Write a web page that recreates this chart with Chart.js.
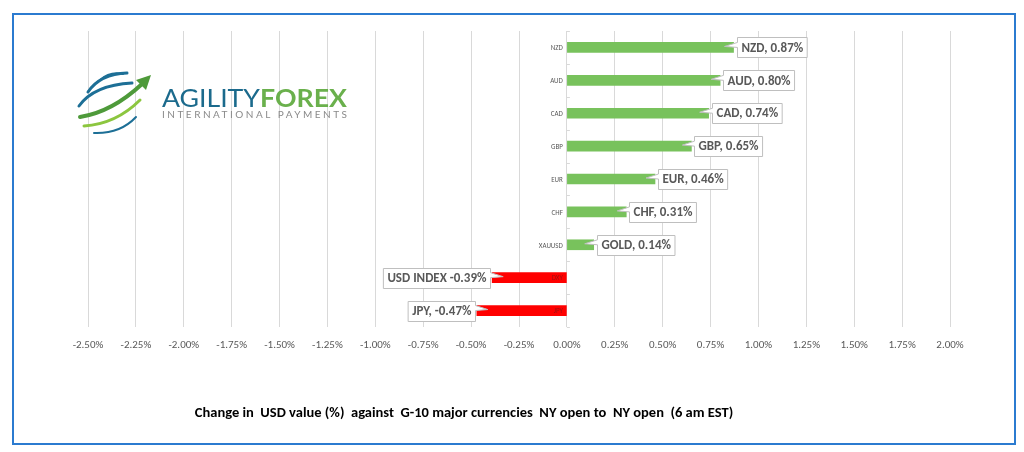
<!DOCTYPE html>
<html>
<head>
<meta charset="utf-8">
<script src="https://cdn.jsdelivr.net/npm/chart.js@4/dist/chart.umd.min.js"></script>
<style>
  html, body { margin: 0; padding: 0; background: #fff; }
  #wrap { position: relative; width: 1024px; height: 452px; overflow: hidden; }
  #frame { position: absolute; left: 12px; top: 13px; width: 1000px; height: 428px; border: 2px solid #2b7bd0; }
  #chart { position: absolute; left: 0; top: 0; }
  #logo { position: absolute; left: 0; top: 0; }
  #title { position: absolute; left: 0; top: 403px; width: 928px; text-align: center;
           font: bold 14.5px Carlito, Lato, "Liberation Sans", sans-serif; color: #000; white-space: pre; }
</style>
</head>
<body>
<div id="wrap">
  <div id="frame"></div>
  <canvas id="chart" width="1024" height="452"></canvas>
  <svg id="logo" width="400" height="160" xmlns="http://www.w3.org/2000/svg">
    <!-- globe swirl -->
    <path d="M100 80 Q110 71 123 74" stroke="#1d6f96" stroke-width="2" fill="none" stroke-linecap="round"/>
    <path d="M88 92 Q100 74 127 73" stroke="#1d6f96" stroke-width="3" fill="none" stroke-linecap="round"/>
    <path d="M79 106 Q94 85 132 83" stroke="#1d6f96" stroke-width="3" fill="none" stroke-linecap="round"/>
    <path d="M80 117 Q112 112 142 84" stroke="#4e9a3a" stroke-width="4" fill="none" stroke-linecap="round"/>
    <polygon points="151,75 136,80 146,90" fill="#4e9a3a"/>
    <path d="M84 126 Q116 124 140 100" stroke="#8cc63f" stroke-width="3" fill="none" stroke-linecap="round"/>
    <path d="M94 133 Q120 134 136 117" stroke="#1d6f96" stroke-width="2" fill="none" stroke-linecap="round"/>
    <!-- company name -->
    <text x="162" y="107" font-family="Lato, 'Open Sans', sans-serif" font-size="25" fill="#1b6a8c" textLength="98" lengthAdjust="spacingAndGlyphs">AGILITY</text>
    <text x="260" y="107" font-family="Lato, 'Open Sans', sans-serif" font-size="25" font-weight="bold" fill="#6ab04c" textLength="87" lengthAdjust="spacingAndGlyphs">FOREX</text>
    <text x="162" y="118" font-family="Lato, 'Open Sans', sans-serif" font-size="10" fill="#8a8a8a" textLength="185" lengthAdjust="spacing">INTERNATIONAL PAYMENTS</text>
  </svg>
  <div id="title">Change in  USD value (%)  against  G-10 major currencies  NY open to  NY open  (6 am EST)</div>
</div>

<script>
// Chart data
const categories = ['NZD', 'AUD', 'CAD', 'GBP', 'EUR', 'CHF', 'XAUUSD', 'DXY', 'JPY'];
const changeValues = [0.87, 0.80, 0.74, 0.65, 0.46, 0.31, 0.14, -0.39, -0.47];
const calloutNames = ['NZD, ', 'AUD, ', 'CAD, ', 'GBP, ', 'EUR, ', 'CHF, ', 'GOLD, ', 'USD INDEX ', 'JPY, '];
const axisMin = -2.5;
const axisMax = 2.0;
const axisStep = 0.25;

const GREEN = '#78c25c';
const RED = '#ff0000';
const TEXT_GRAY = '#595959';
const FONT = 'Carlito, Lato, "Liberation Sans", sans-serif';

// Draws category labels at the zero line plus the callout boxes for each bar
const calloutPlugin = {
  id: 'callouts',
  afterDatasetsDraw(chart) {
    const ctx = chart.ctx;
    const xScale = chart.scales.x;
    const yScale = chart.scales.y;
    const zeroX = xScale.getPixelForValue(0);
    const meta = chart.getDatasetMeta(0);

    ctx.save();

    // small tick marks between categories on the zero axis
    ctx.strokeStyle = '#d9d9d9';
    ctx.lineWidth = 1;
    for (let i = 0; i <= categories.length; i++) {
      const y = Math.round(yScale.getPixelForValue(i - 0.5)) + 0.5;
      ctx.beginPath();
      ctx.moveTo(zeroX, y);
      ctx.lineTo(zeroX + 3, y);
      ctx.stroke();
    }

    // category labels, right aligned against the zero line
    ctx.font = '7px ' + FONT;
    ctx.textAlign = 'right';
    ctx.textBaseline = 'middle';
    categories.forEach((cat, i) => {
      const y = yScale.getPixelForValue(i);
      ctx.fillStyle = changeValues[i] < 0 ? '#a01010' : TEXT_GRAY;
      ctx.fillText(cat, zeroX - 4, y + 1);
    });

    // callout boxes
    ctx.font = 'bold 13px ' + FONT;
    ctx.textAlign = 'left';
    meta.data.forEach((bar, i) => {
      const v = changeValues[i];
      const text = calloutNames[i] + v.toFixed(2) + '%';
      const w = ctx.measureText(text).width + 8;
      const h = 20;
      const y = bar.y;
      const top = Math.round(y - h / 2) + 0.5;
      const bottom = top + h;
      let left, right;

      ctx.beginPath();
      if (v >= 0) {
        left = Math.round(bar.x + 3) + 0.5;
        right = left + w;
        ctx.moveTo(left, top);
        ctx.lineTo(right, top);
        ctx.lineTo(right, bottom);
        ctx.lineTo(left, bottom);
        ctx.lineTo(left, y);
        ctx.lineTo(bar.x - 9, y - 1);
        ctx.lineTo(left, y - 5);
      } else {
        right = Math.round(bar.x - 2) + 0.5;
        left = right - w;
        ctx.moveTo(left, top);
        ctx.lineTo(right, top);
        ctx.lineTo(right, y - 5);
        ctx.lineTo(bar.x + 11, y - 1);
        ctx.lineTo(right, y);
        ctx.lineTo(right, bottom);
        ctx.lineTo(left, bottom);
      }
      ctx.closePath();
      ctx.fillStyle = '#ffffff';
      ctx.fill();
      ctx.strokeStyle = '#bfbfbf';
      ctx.stroke();

      ctx.fillStyle = TEXT_GRAY;
      ctx.fillText(text, left + 4, y + 1);
    });

    ctx.restore();
  }
};

function renderChart() {
  const ctx = document.getElementById('chart').getContext('2d');
  new Chart(ctx, {
    type: 'bar',
    data: {
      labels: categories,
      datasets: [{
        data: changeValues,
        backgroundColor: changeValues.map(v => v < 0 ? RED : GREEN),
        barThickness: 10,
        borderWidth: 0
      }]
    },
    options: {
      indexAxis: 'y',
      responsive: false,
      animation: false,
      layout: { padding: { left: 88, right: 74, top: 31, bottom: 85 } },
      plugins: {
        legend: { display: false },
        tooltip: { enabled: false }
      },
      scales: {
        x: {
          min: axisMin,
          max: axisMax,
          afterFit(scale) { scale.height = 40; },
          grid: { color: '#d9d9d9', drawTicks: false },
          border: { display: false },
          ticks: {
            stepSize: axisStep,
            padding: 12,
            color: TEXT_GRAY,
            font: { family: FONT, size: 11 },
            maxRotation: 0,
            autoSkip: false,
            callback: v => v.toFixed(2) + '%'
          }
        },
        y: { display: false }
      }
    },
    plugins: [calloutPlugin]
  });
}

window.addEventListener('load', renderChart);
</script>
</body>
</html>
